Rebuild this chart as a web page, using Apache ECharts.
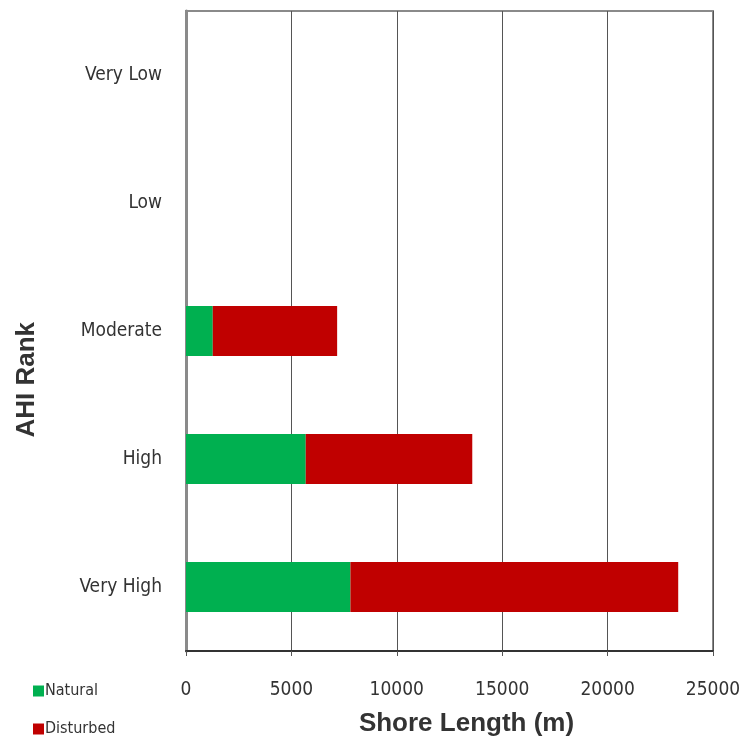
<!DOCTYPE html>
<html><head><meta charset="utf-8">
<script src="https://cdn.jsdelivr.net/npm/echarts@6/dist/echarts.min.js"></script>
<style>html,body{margin:0;padding:0;background:#fff}#c{width:739px;height:742px}</style>
</head><body><div id="c"></div>
<script>
const categories = ['Very High', 'High', 'Moderate', 'Low', 'Very Low'];
const natural = [7800, 5680, 1270, 0, 0];
const disturbed = [15550, 7900, 5900, 0, 0];
const xTicks = [0, 5000, 10000, 15000, 20000, 25000];

const chart = echarts.init(document.getElementById('c'), null, {renderer: 'canvas'});
const font = '"Liberation Sans Narrow", "DejaVu Sans Condensed", sans-serif';
const boldFont = 'Arial, "Liberation Sans", sans-serif';
const legendBase = {
  orient: 'vertical', left: 28, itemWidth: 11, itemHeight: 11,
  icon: 'rect', itemStyle: {borderWidth: 0},
  textStyle: {fontFamily: font, fontSize: 16, color: '#333', padding: [2, 0, 0, -4]}
};
chart.setOption({
  animation: false,
  backgroundColor: '#fff',
  grid: {left: 186, right: 26, top: 11, bottom: 91, show: true, borderColor: '#8a8a8a', borderWidth: 2,
         containLabel: false, outerBoundsMode: 'none'},
  legend: [
    Object.assign({}, legendBase, {top: 678, data: ['Natural']}),
    Object.assign({}, legendBase, {top: 716, data: ['Disturbed']})
  ],
  graphic: [{
    type: 'text', left: 14, top: 322, rotation: Math.PI / 2,
    style: {text: 'AHI Rank', font: 'bold 26px Arial, "Liberation Sans", sans-serif', fill: '#333'}
  }],
  xAxis: {
    type: 'value', min: 0, max: 25000, interval: 5000,
    name: 'Shore Length (m)', nameLocation: 'middle', nameGap: 60,
    nameTextStyle: {fontFamily: boldFont, fontWeight: 'bold', fontSize: 26, color: '#333', padding: [0, 0, 0, 34]},
    axisLine: {show: true, lineStyle: {color: '#333', width: 2}},
    axisTick: {show: true, length: 5, lineStyle: {color: '#555'}},
    axisLabel: {fontFamily: font, fontSize: 19, color: '#333', margin: 30,
      formatter: v => xTicks.includes(v) ? String(v) : ''},
    splitLine: {show: true, lineStyle: {color: '#555', width: 1}}
  },
  yAxis: {
    type: 'category', data: categories,
    axisLine: {show: true, lineStyle: {color: '#8a8a8a', width: 3}},
    axisTick: {show: false},
    axisLabel: {fontFamily: font, fontSize: 19, color: '#333', margin: 24},
    splitLine: {show: false}
  },
  series: [
    {name: 'Natural', type: 'bar', stack: 's', data: natural, barWidth: '39%',
     itemStyle: {color: '#00B050'}},
    {name: 'Disturbed', type: 'bar', stack: 's', data: disturbed, barWidth: '39%',
     itemStyle: {color: '#C00000'}}
  ]
});
</script></body></html>
